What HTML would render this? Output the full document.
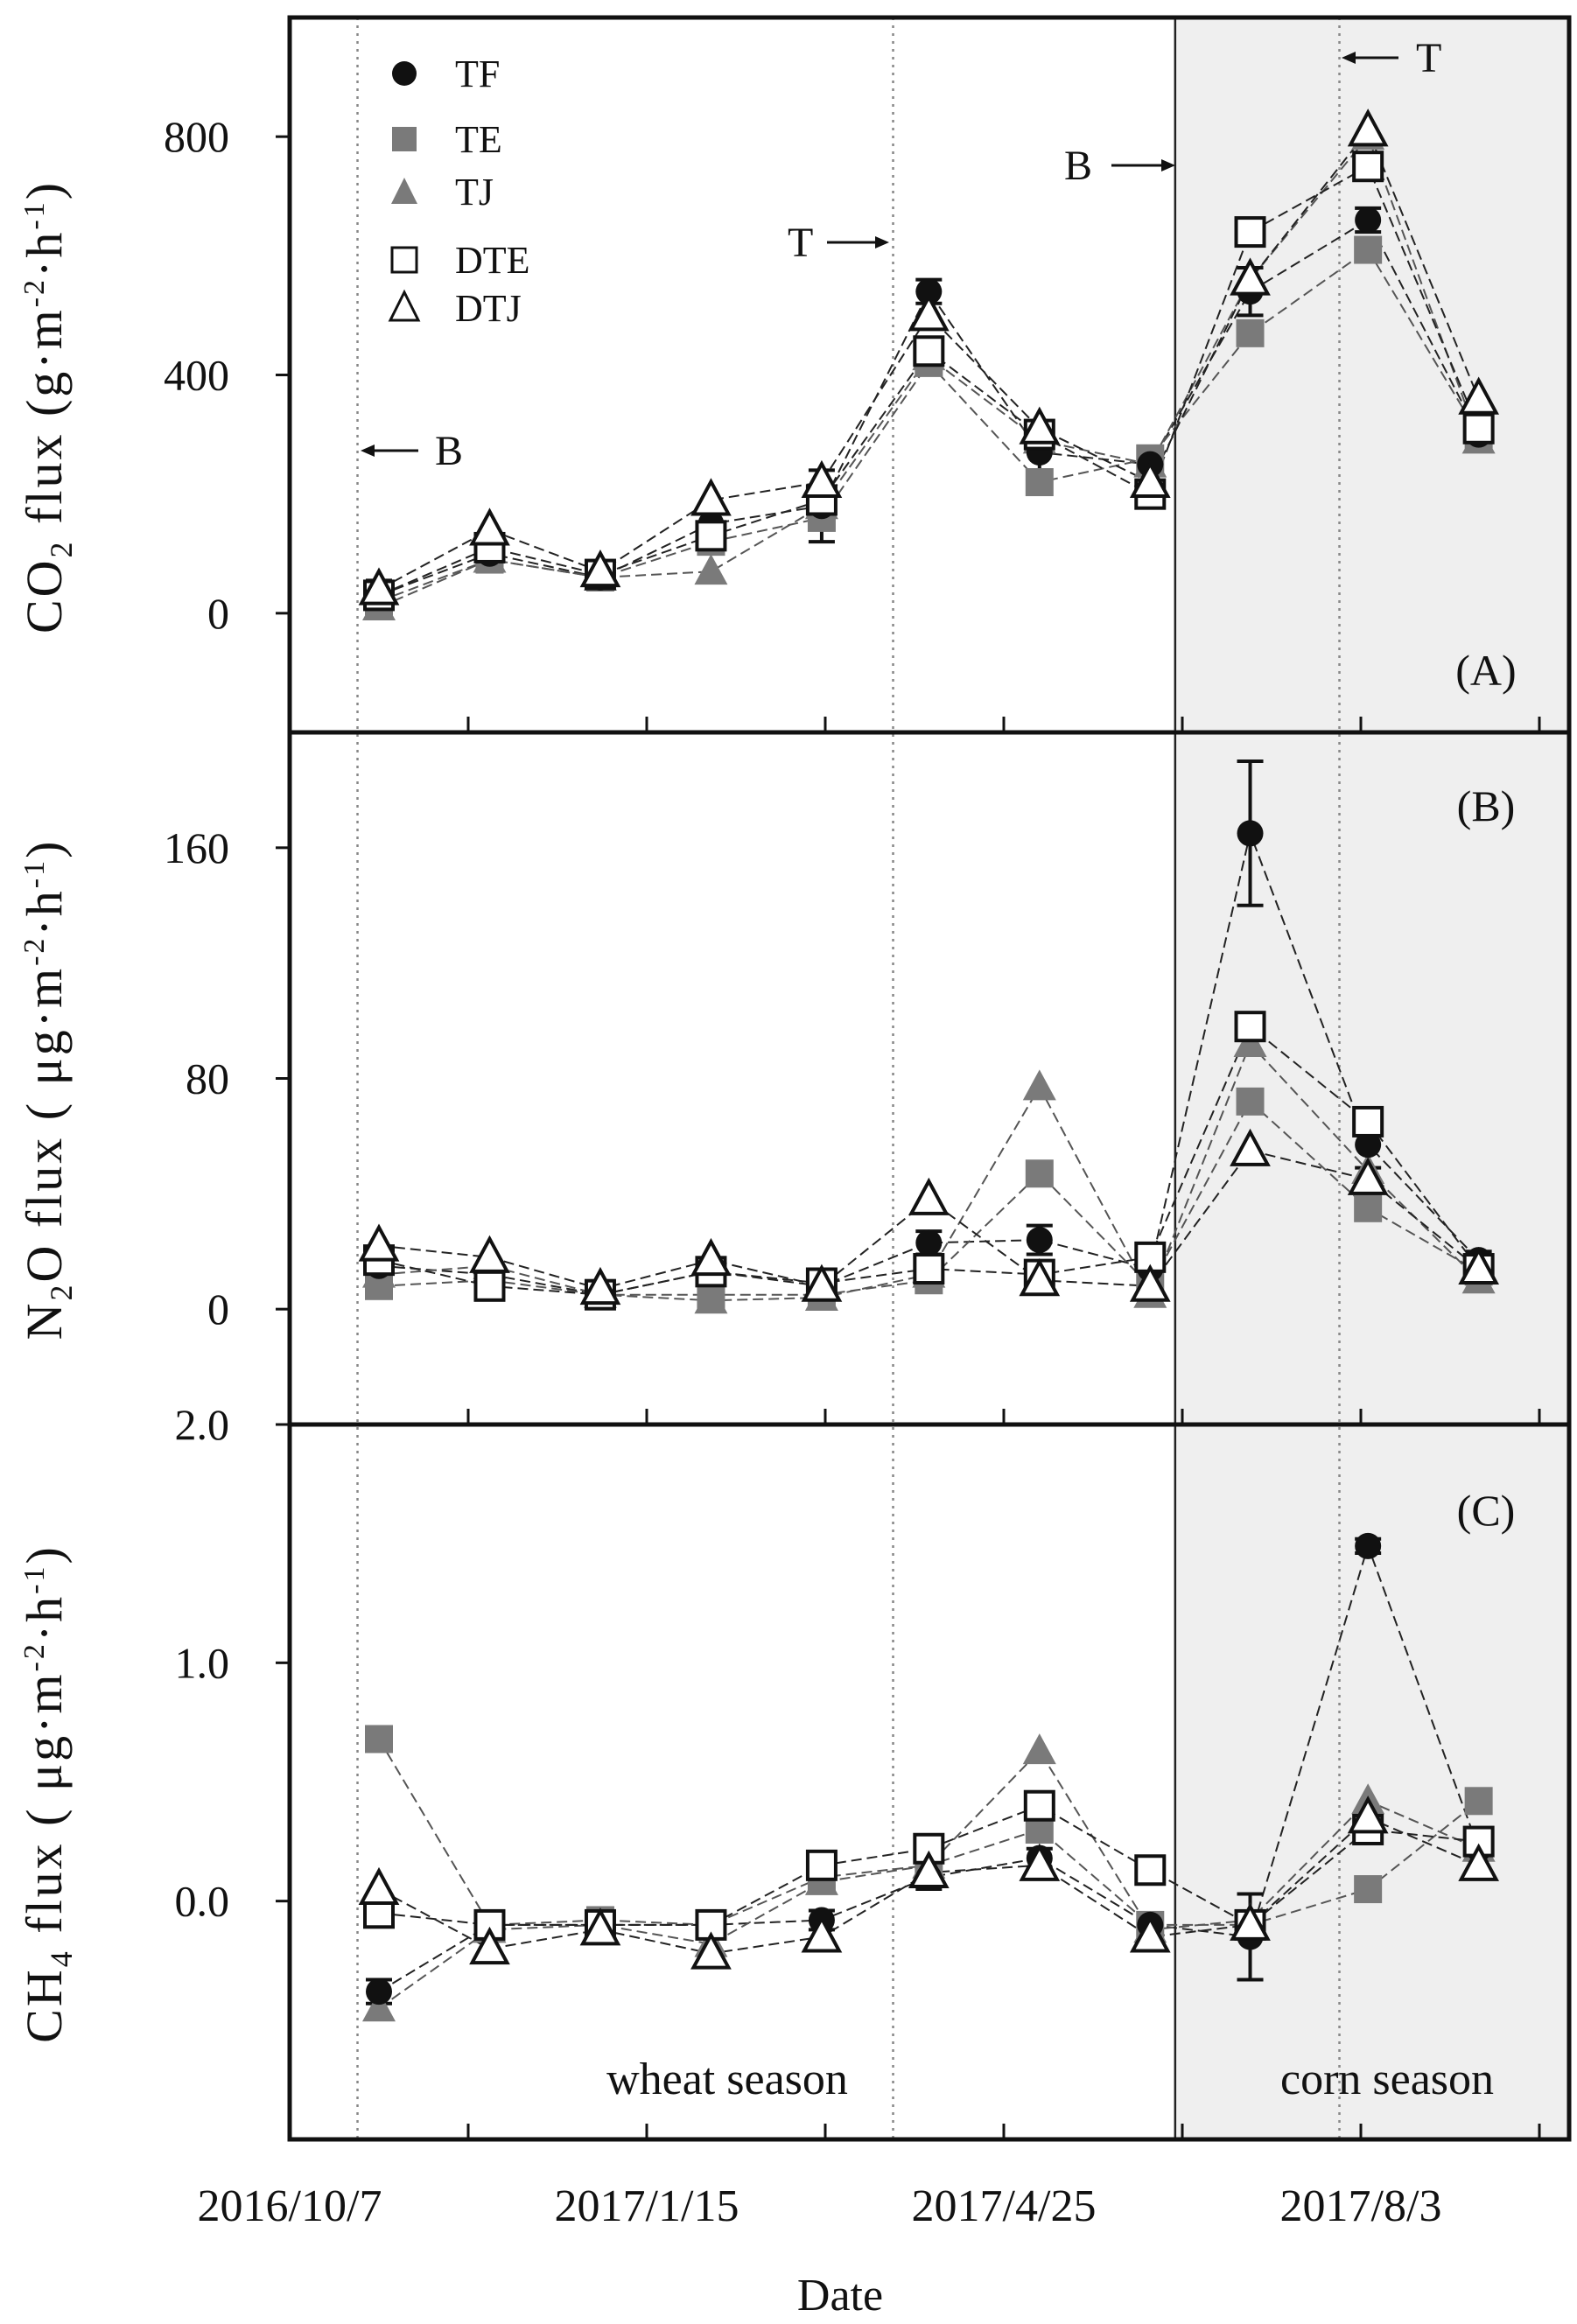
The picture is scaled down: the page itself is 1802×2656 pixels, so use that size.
<!DOCTYPE html>
<html><head><meta charset="utf-8"><style>
html,body{margin:0;padding:0;background:#fff}
svg{display:block}
text{font-family:"Liberation Serif",serif;fill:#111}
</style></head><body>
<svg id="chart" width="1802" height="2656" viewBox="0 0 1802 2656" xmlns="http://www.w3.org/2000/svg">
<g id="bg"></g><g id="grid"></g><g id="marks"></g><g id="frame"></g><g id="labels"></g>
</svg>
<script>
// ---- data ----
const sampleDays = [25, 56, 87, 118, 149, 179, 210, 241, 269, 302, 333];
const seriesNames = ["TF","TE","TJ","DTE","DTJ"];
const xTickDays = [50,100,150,200,250,300,350];
const xTickLabels = ["2016/10/7","2017/1/15","2017/4/25","2017/8/3"];
const xTickLabelDays = [0,100,200,300];
const markerDays = [19,169,294];
const shadeStartDay = 248;

const co2TF  = [30,100,60,150,180,540,270,250,540,660,300];
const co2TE  = [20,90,60,120,160,420,220,260,470,610,300];
const co2TJ  = [10,90,60,70,180,430,290,250,560,800,290];
const co2DTE = [30,110,65,130,190,440,300,200,640,750,310];
const co2DTJ = [40,140,70,190,220,500,310,220,560,810,360];
const co2Err = [25,20,15,30,60,20,40,30,40,20,20];
const co2Ticks = [0,400,800];

const n2oTF  = [15,12,5,13,8,23,24,14,165,57,17];
const n2oTE  = [8,10,5,5,5,10,47,8,72,35,13];
const n2oTJ  = [12,15,5,3,4,12,77,5,92,48,10];
const n2oDTE = [17,8,5,13,9,14,12,18,98,65,14];
const n2oDTJ = [22,18,7,17,8,38,10,8,55,45,14];
const n2oErr = [5,4,2,4,3,4,5,4,25,8,3];
const n2oTicks = [0,80,160];

const ch4TF  = [-0.38,-0.1,-0.1,-0.1,-0.08,0.1,0.18,-0.1,-0.15,1.49,0.22];
const ch4TE  = [0.68,-0.1,-0.08,-0.1,0.1,0.15,0.3,-0.1,-0.1,0.05,0.42];
const ch4TJ  = [-0.45,-0.12,-0.1,-0.18,0.08,0.15,0.63,-0.12,-0.08,0.42,0.22];
const ch4DTE = [-0.05,-0.1,-0.1,-0.1,0.15,0.22,0.4,0.13,-0.1,0.3,0.25];
const ch4DTJ = [0.05,-0.2,-0.12,-0.22,-0.15,0.12,0.15,-0.15,-0.1,0.35,0.15];
const ch4Err = [0.05,0.04,0.03,0.04,0.04,0.05,0.04,0.04,0.18,0.03,0.04];
const ch4Ticks = [0.0,1.0,2.0];

// ---- layout ----
const L=331,R=1793;
const xs=d=>L+d*4.08;
const panels=[
 {key:"co2",top:20,bot:837,min:-200,max:1000,series:[co2TF,co2TE,co2TJ,co2DTE,co2DTJ],err:co2Err,ticks:co2Ticks,fmt:v=>String(v),label:"(A)",ly:765},
 {key:"n2o",top:837,bot:1628,min:-40,max:200,series:[n2oTF,n2oTE,n2oTJ,n2oDTE,n2oDTJ],err:n2oErr,ticks:n2oTicks,fmt:v=>String(v),label:"(B)",ly:920},
 {key:"ch4",top:1628,bot:2445,min:-1,max:2,series:[ch4TF,ch4TE,ch4TJ,ch4DTE,ch4DTJ],err:ch4Err,ticks:ch4Ticks,fmt:v=>v.toFixed(1),label:"(C)",ly:1725}
];
const NS="http://www.w3.org/2000/svg";
function mk(parent,tag,attrs,txt){const e=document.createElementNS(NS,tag);for(const k in attrs)e.setAttribute(k,attrs[k]);if(txt!==undefined)e.textContent=txt;document.getElementById(parent).appendChild(e);return e;}
function drawMarker(g,type,x,y){
  let e;const s=16;
  if(type==="TF"){e=mk(g,"circle",{cx:x,cy:y,r:15,fill:"#111"});}
  else if(type==="TE"){e=mk(g,"rect",{x:x-s,y:y-s,width:2*s,height:2*s,fill:"#7a7a7a"});}
  else if(type==="TJ"){e=mk(g,"polygon",{points:`${x},${y-20} ${x-19},${y+15} ${x+19},${y+15}`,fill:"#7a7a7a"});}
  else if(type==="DTE"){e=mk(g,"rect",{x:x-s,y:y-s,width:2*s,height:2*s,fill:"#fff",stroke:"#111","stroke-width":4});}
  else {e=mk(g,"polygon",{points:`${x},${y-21} ${x-20},${y+16} ${x+20},${y+16}`,fill:"#fff",stroke:"#111","stroke-width":4});}
  return e;
}
const shadeX=xs(shadeStartDay);
let sh=mk("bg","rect",{x:shadeX,y:20,width:R-shadeX,height:2425,fill:"#efefef"});


markerDays.forEach(d=>{
  let l=mk("grid","line",{x1:xs(d),x2:xs(d),y1:20,y2:2445,stroke:"#888","stroke-width":2.5,"stroke-dasharray":"3,6"});
  
  
});
let sl=mk("grid","line",{x1:shadeX,x2:shadeX,y1:20,y2:2445,stroke:"#222","stroke-width":2.5});



panels.forEach(p=>{
  const ys=v=>p.bot-(v-p.min)/(p.max-p.min)*(p.bot-p.top);
  p.series.forEach((vals,si)=>{
    const pts=vals.map((v,i)=>xs(sampleDays[i])+","+ys(v)).join(" ");
    let pl=mk("marks","polyline",{points:pts,fill:"none",stroke:si===1||si===2?"#555":"#222","stroke-width":2,"stroke-dasharray":"12,6"});
    
    
  });
  p.series[0].forEach((v,i)=>{
    const x=xs(sampleDays[i]),e=p.err[i];
    let g=mk("marks","path",{d:`M${x},${ys(v-e)}V${ys(v+e)}M${x-15},${ys(v-e)}H${x+15}M${x-15},${ys(v+e)}H${x+15}`,stroke:"#111","stroke-width":4,fill:"none"});
    
    
  });
  [1,2,0,3,4].forEach(si=>{
    p.series[si].forEach((v,i)=>{
      const m=drawMarker("marks",seriesNames[si],xs(sampleDays[i]),ys(v));
      
      
    });
  });
  p.ticks.forEach(t=>{
    const y=ys(t);
    let tl=mk("frame","line",{x1:L-16,x2:L,y1:y,y2:y,stroke:"#111","stroke-width":3});
    
    
    let tx=mk("labels","text",{x:262,y:y+17,"text-anchor":"end","font-size":50},p.fmt(t));
    
    
  });
  xTickDays.forEach(d=>{
    let t=mk("frame","line",{x1:xs(d),x2:xs(d),y1:p.bot-18,y2:p.bot,stroke:"#111","stroke-width":3});
    
    
  });
  let pl=mk("labels","text",{x:1698,y:p.ly+18,"text-anchor":"middle","font-size":50},p.label);
  
  
  let br=mk("frame","line",{x1:L,x2:R,y1:p.bot,y2:p.bot,stroke:"#111","stroke-width":5});
  
  
});
let fr=mk("frame","rect",{x:L,y:20,width:R-L,height:2425,fill:"none",stroke:"#111","stroke-width":5});


xTickLabels.forEach((lab,i)=>{
  let t=mk("labels","text",{x:xs(xTickLabelDays[i]),y:2538,"text-anchor":"middle","font-size":52},lab);
  
  
});
</script>
<svg style="position:absolute;left:0;top:0" width="1802" height="2656">
<g font-family="Liberation Serif, serif" fill="#111">
<text x="960" y="2640" text-anchor="middle" font-size="52">Date</text>
<text x="831" y="2393" text-anchor="middle" font-size="52">wheat season</text>
<text x="1585" y="2393" text-anchor="middle" font-size="52">corn season</text>
<text transform="translate(70,465) rotate(-90)" text-anchor="middle" font-size="58" letter-spacing="3">CO<tspan font-size="36" dy="12">2</tspan><tspan dy="-12">  flux  (g·m</tspan><tspan font-size="34" dy="-20">-2</tspan><tspan dy="20">·h</tspan><tspan font-size="34" dy="-20">-1</tspan><tspan dy="20">)</tspan></text>
<text transform="translate(70,1245) rotate(-90)" text-anchor="middle" font-size="58" letter-spacing="3">N<tspan font-size="36" dy="12">2</tspan><tspan dy="-12">O  flux  ( μg·m</tspan><tspan font-size="34" dy="-20">-2</tspan><tspan dy="20">·h</tspan><tspan font-size="34" dy="-20">-1</tspan><tspan dy="20">)</tspan></text>
<text transform="translate(70,2050) rotate(-90)" text-anchor="middle" font-size="58" letter-spacing="3">CH<tspan font-size="36" dy="12">4</tspan><tspan dy="-12">  flux  ( μg·m</tspan><tspan font-size="34" dy="-20">-2</tspan><tspan dy="20">·h</tspan><tspan font-size="34" dy="-20">-1</tspan><tspan dy="20">)</tspan></text>
<g font-size="44">
<circle cx="462" cy="84" r="14" fill="#111"/><text x="520" y="99">TF</text>
<rect x="448" y="145" width="28" height="28" fill="#7a7a7a"/><text x="520" y="174">TE</text>
<polygon points="462,203 447,233 477,233" fill="#7a7a7a"/><text x="520" y="234">TJ</text>
<rect x="448" y="283" width="28" height="28" fill="#fff" stroke="#111" stroke-width="3"/><text x="520" y="312">DTE</text>
<polygon points="462,334 446,366 478,366" fill="#fff" stroke="#111" stroke-width="3"/><text x="520" y="367">DTJ</text>
</g>
<g font-size="48" stroke="#111">
<line x1="418" y1="515" x2="478" y2="515" stroke-width="3"/><polygon points="412,515 428,508 428,522" stroke="none"/><text x="497" y="531" stroke="none">B</text>
<text x="900" y="293" stroke="none">T</text><line x1="945" y1="277" x2="1008" y2="277" stroke-width="3"/><polygon points="1016,277 1000,270 1000,284" stroke="none"/>
<text x="1216" y="205" stroke="none">B</text><line x1="1270" y1="189" x2="1335" y2="189" stroke-width="3"/><polygon points="1343,189 1327,182 1327,196" stroke="none"/>
<line x1="1540" y1="66" x2="1598" y2="66" stroke-width="3"/><polygon points="1533,66 1549,59 1549,73" stroke="none"/><text x="1618" y="82" stroke="none">T</text>
</g>
</g>
</svg>
</body></html>
